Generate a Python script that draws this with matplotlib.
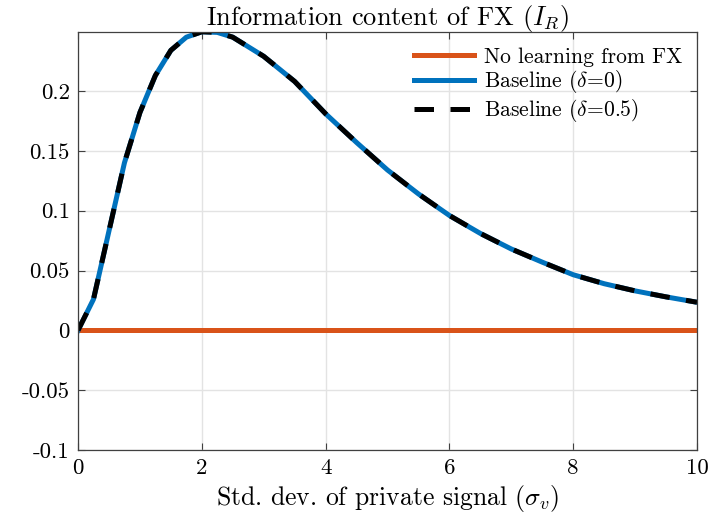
import matplotlib
matplotlib.use('Agg')
import matplotlib.pyplot as plt

# values
sigma_v = [0, 0.25, 0.5, 0.75, 1.0, 1.25, 1.5, 1.75, 2.0, 2.25, 2.5, 3.0, 3.5,
           4.0, 4.5, 5.0, 5.5, 6.0, 6.5, 7.0, 7.5, 8.0, 8.5, 9.0, 9.5, 10.0]
info_base = [0, 0.026, 0.083, 0.140, 0.182, 0.213, 0.234, 0.245, 0.2495, 0.249,
             0.245, 0.229, 0.208, 0.181, 0.157, 0.134, 0.114, 0.096, 0.081,
             0.068, 0.057, 0.0465, 0.039, 0.033, 0.028, 0.0235]
info_delta05 = list(info_base)
no_learn_x = [0, 10]
no_learn_y = [0, 0]

xticks = [0, 2, 4, 6, 8, 10]
yticks = [-0.1, -0.05, 0, 0.05, 0.1, 0.15, 0.2]
ytick_labels = ['-0.1', '-0.05', '0', '0.05', '0.1', '0.15', '0.2']

plt.rcParams['font.family'] = 'serif'
plt.rcParams['font.serif'] = ['cmr10']
plt.rcParams['mathtext.fontset'] = 'cm'
plt.rcParams['axes.unicode_minus'] = False
plt.rcParams['axes.formatter.use_mathtext'] = True

fig = plt.figure(figsize=(7.13, 5.27), dpi=100)
ax = fig.add_axes([0.1094, 0.146, 0.8682, 0.793])

ax.plot(no_learn_x, no_learn_y, color='#D95319', lw=3.6, label='No learning from FX')
ax.plot(sigma_v, info_base, color='#0072BD', lw=3.6, label=r'Baseline ($\delta$=0)')
ax.plot(sigma_v, info_delta05, color='black', lw=3.6, dashes=(3.9, 3.3),
        label=r'Baseline ($\delta$=0.5)')

ax.set_xlim(0, 10)
ax.set_ylim(-0.1, 0.2492)
ax.set_xticks(xticks)
ax.set_xticklabels([str(t) for t in xticks])
ax.set_yticks(yticks)
ax.set_yticklabels(ytick_labels)
ax.grid(True, color='#e3e3e3', lw=1.0)
ax.set_axisbelow(True)
ax.tick_params(direction='in', length=5, width=0.8, color='#404040',
               labelsize=16.5, top=True, right=True, pad=6)
for s in ax.spines.values():
    s.set_color('#404040')
    s.set_linewidth(0.9)

ax.set_title(r'Information content of FX ($I_R$)', fontsize=19, pad=5)
ax.set_xlabel(r'Std. dev. of private signal ($\sigma_v$)', fontsize=18.5, labelpad=4)
ax.legend(loc='upper right', frameon=False, fontsize=15.5, handlelength=2.8,
          handletextpad=0.45, labelspacing=0.08, borderaxespad=0.3)

fig.savefig('out.png', dpi=100)
